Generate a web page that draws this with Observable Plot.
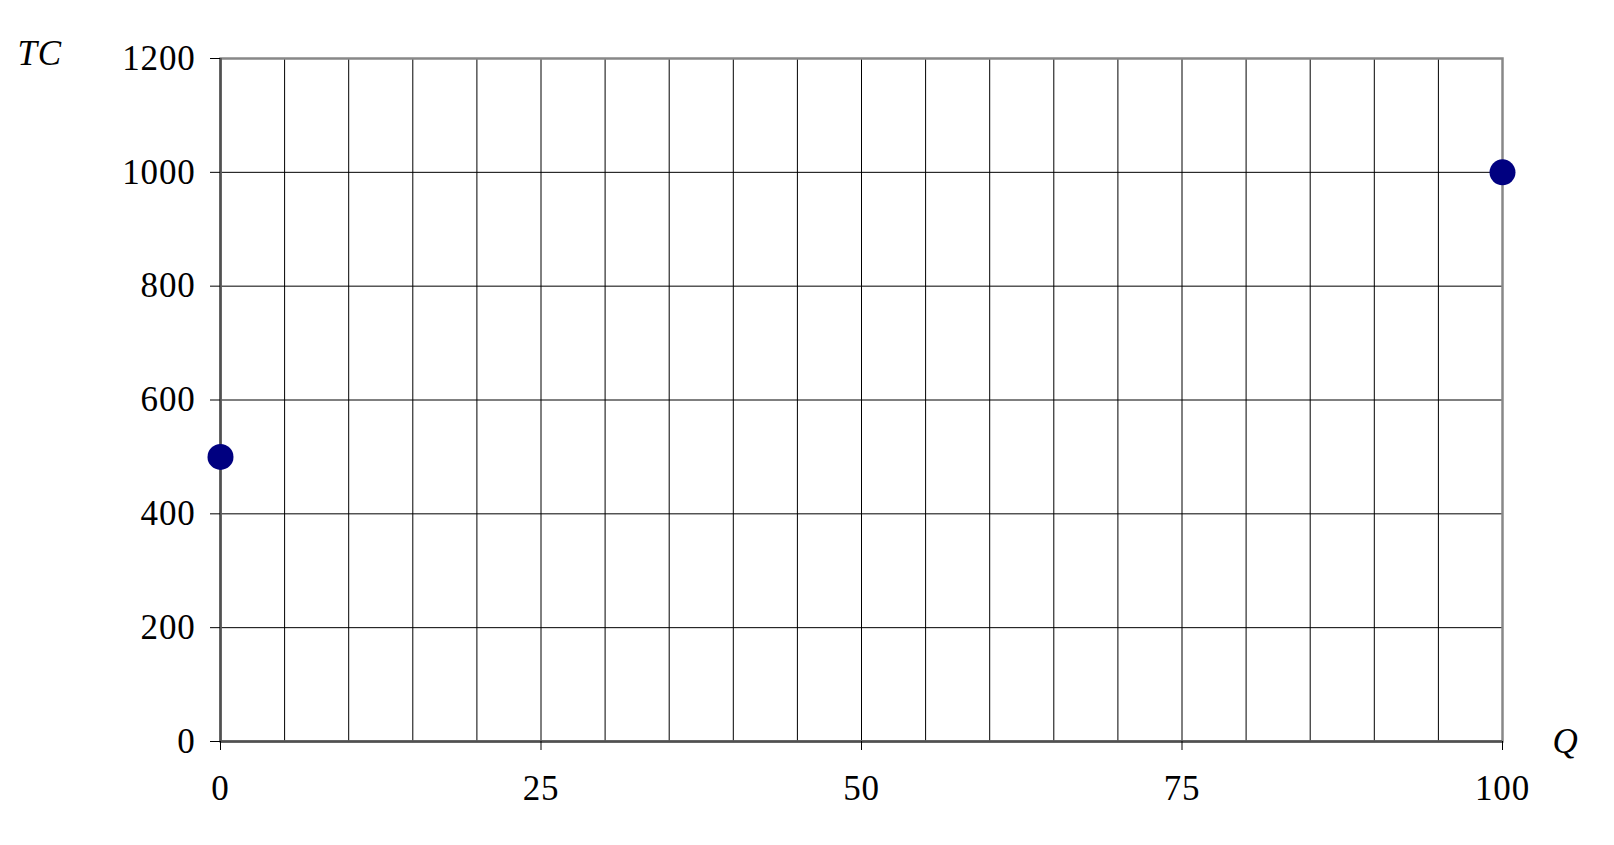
<!DOCTYPE html>
<html>
<head>
<meta charset="utf-8">
<script src="https://cdn.jsdelivr.net/npm/d3@7"></script>
<script src="https://cdn.jsdelivr.net/npm/@observablehq/plot@0.6"></script>
<style>
  html, body { margin: 0; padding: 0; background: #fff; }
  #chart svg text { letter-spacing: 0.8px; }
</style>
</head>
<body>
<div id="chart"></div>
<script>
const quantity = [0, 100];
const totalCost = [500, 1000];
const xTickValues = [0, 25, 50, 75, 100];
const yTickValues = [0, 200, 400, 600, 800, 1000, 1200];
const xGridValues = d3.range(0, 101, 5);
const yLabel = "TC";
const xLabel = "Q";

const points = quantity.map((q, i) => ({q, tc: totalCost[i]}));

const chart = Plot.plot({
  width: 1614,
  height: 845,
  marginLeft: 220,
  marginRight: 112,
  marginTop: 58,
  marginBottom: 104,
  style: {fontFamily: "'Liberation Serif', 'Times New Roman', serif", fontSize: "34px", color: "#000", background: "#fff"},
  x: {domain: [0, 100], ticks: xTickValues, label: null},
  y: {domain: [0, 1200], ticks: yTickValues, label: null},
  marks: [
    Plot.gridX(xGridValues, {stroke: "#000", strokeOpacity: 1, strokeWidth: 1}),
    Plot.gridY(yTickValues, {stroke: "#000", strokeOpacity: 1, strokeWidth: 1}),
    Plot.frame({stroke: "#888", strokeWidth: 2.5}),
    Plot.ruleX([0], {stroke: "#505050", strokeWidth: 2.5}),
    Plot.ruleY([0], {stroke: "#505050", strokeWidth: 2.5}),
    Plot.axisX(xTickValues, {tickSize: 9, tickPadding: 25, fontSize: 35, stroke: "#000", tickFormat: d => String(d)}),
    Plot.axisY(yTickValues, {tickSize: 10, tickPadding: 15, fontSize: 35, stroke: "#000", tickFormat: d => String(d)}),
    Plot.dot(points, {x: "q", y: "tc", r: 13, fill: "#000080", stroke: "none"}),
    Plot.text([yLabel], {frameAnchor: "top-left", text: d => d, dx: -203, dy: -18, textAnchor: "start", fontSize: 35, fontStyle: "italic"}),
    Plot.text([xLabel], {frameAnchor: "bottom-right", text: d => d, dx: 63, dy: 11, textAnchor: "middle", fontSize: 35, fontStyle: "italic"})
  ]
});
document.getElementById("chart").appendChild(chart);
</script>
</body>
</html>
